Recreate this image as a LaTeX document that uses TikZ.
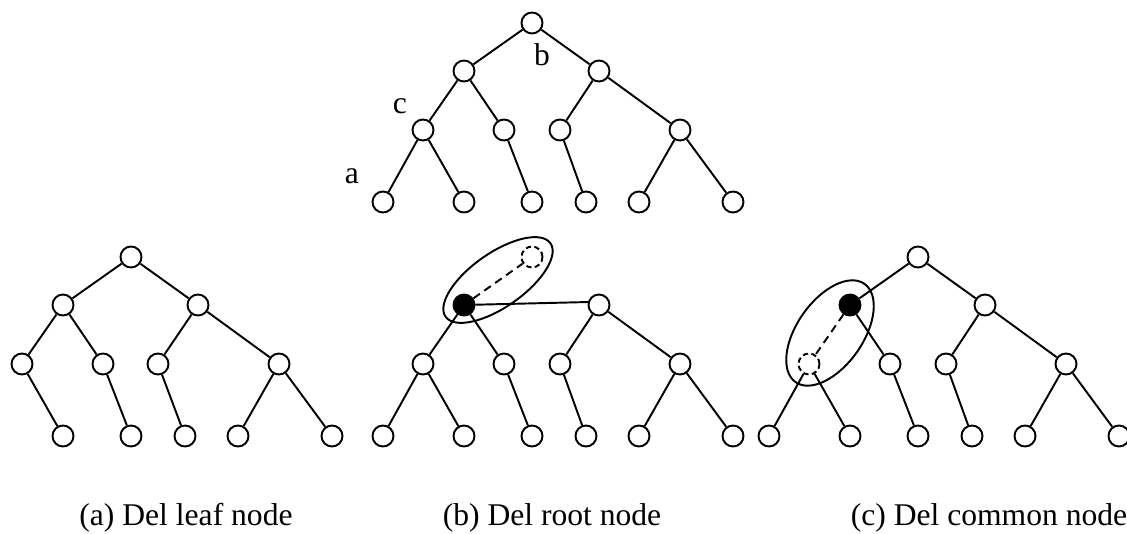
\documentclass[tikz,border=0pt]{standalone}
\usepackage{fontspec}
\setmainfont{Liberation Serif}

\begin{document}
\begin{tikzpicture}[x=0.75pt,y=0.75pt,yscale=-1,xscale=1,
  vtx/.style={draw,circle,line width=1.45pt,minimum size=15.75pt,inner sep=0pt},
  gone/.style={vtx,dash pattern=on 4pt off 2.5pt},
  hit/.style={vtx,fill=black},
  edge/.style={line width=1.45pt},
  lbl/.style={inner sep=0pt,font=\fontsize{23.7}{28}\selectfont}]
\useasboundingbox (0,0) rectangle (1127,534);

%Shape: Circle (original tree)
\node[vtx] (t1) at (532,23) {};
\node[vtx] (t2) at (464,71) {};
\node[vtx] (t3) at (599,71) {};
\node[vtx] (t4) at (423,130) {};
\node[vtx] (t5) at (504,130) {};
\node[vtx] (t6) at (560,130) {};
\node[vtx] (t7) at (680,130) {};
\node[vtx] (t8) at (383,202) {};
\node[vtx] (t9) at (464,202) {};
\node[vtx] (t11) at (532,202) {};
\node[vtx] (t13) at (586,202) {};
\node[vtx] (t14) at (639,202) {};
\node[vtx] (t15) at (733,202) {};
%Straight Lines
\draw[edge] (t1) -- (t2) (t1) -- (t3) (t2) -- (t4) (t2) -- (t5) (t3) -- (t6) (t3) -- (t7);
\draw[edge] (t4) -- (t8) (t4) -- (t9) (t5) -- (t11) (t6) -- (t13) (t7) -- (t14) (t7) -- (t15);
% Text Node
\node[lbl] (lb) at (542,55) {b};
% Text Node
\node[lbl] (lc) at (400,106) {c};
% Text Node
\node[lbl] (la) at (352,176) {a};

%Shape: Circle (a) leaf a removed
\node[vtx] (a1) at (131,257) {};
\node[vtx] (a2) at (63,305) {};
\node[vtx] (a3) at (198,305) {};
\node[vtx] (a4) at (22,364) {};
\node[vtx] (a5) at (103,364) {};
\node[vtx] (a6) at (158,364) {};
\node[vtx] (a7) at (279,364) {};
\node[vtx] (a9) at (63,436) {};
\node[vtx] (a11) at (131,436) {};
\node[vtx] (a13) at (185,436) {};
\node[vtx] (a14) at (238,436) {};
\node[vtx] (a15) at (332,436) {};
%Straight Lines
\draw[edge] (a1) -- (a2) (a1) -- (a3) (a2) -- (a4) (a2) -- (a5) (a3) -- (a6) (a3) -- (a7);
\draw[edge] (a4) -- (a9) (a5) -- (a11) (a6) -- (a13) (a7) -- (a14) (a7) -- (a15);

%Shape: Circle (b) root b removed
\node[gone] (b1) at (532,257) {};
\node[hit] (b2) at (464,305) {};
\node[vtx] (b3) at (599,305) {};
\node[vtx] (b4) at (423,364) {};
\node[vtx] (b5) at (504,364) {};
\node[vtx] (b6) at (560,364) {};
\node[vtx] (b7) at (680,364) {};
\node[vtx] (b8) at (383,436) {};
\node[vtx] (b9) at (464,436) {};
\node[vtx] (b11) at (532,436) {};
\node[vtx] (b13) at (586,436) {};
\node[vtx] (b14) at (639,436) {};
\node[vtx] (b15) at (733,436) {};
%Straight Lines
\draw[edge,dash pattern=on 6pt off 4pt] (b2) -- (b1);
\draw[edge] (b2) -- (b3.165) (b2) -- (b4) (b2) -- (b5) (b3) -- (b6) (b3) -- (b7);
\draw[edge] (b4) -- (b8) (b4) -- (b9) (b5) -- (b11) (b6) -- (b13) (b7) -- (b14) (b7) -- (b15);
%Shape: Ellipse
\draw[edge,rotate around={-35:(498,280)}] (498,280) ellipse [x radius=64, y radius=27];

%Shape: Circle (c) node c removed
\node[vtx] (c1) at (918,257) {};
\node[hit] (c2) at (850,305) {};
\node[vtx] (c3) at (985,305) {};
\node[gone] (c4) at (809,364) {};
\node[vtx] (c5) at (890,364) {};
\node[vtx] (c6) at (946,364) {};
\node[vtx] (c7) at (1066,364) {};
\node[vtx] (c8) at (769,436) {};
\node[vtx] (c9) at (850,436) {};
\node[vtx] (c11) at (918,436) {};
\node[vtx] (c13) at (972,436) {};
\node[vtx] (c14) at (1025,436) {};
\node[vtx] (c15) at (1119,436) {};
%Straight Lines
\draw[edge,dash pattern=on 6pt off 4pt] (c2) -- (c4);
\draw[edge] (c1) -- (c2) (c1) -- (c3) (c2) -- (c5) (c3) -- (c6) (c3) -- (c7);
\draw[edge] (c4) -- (c8) (c4) -- (c9) (c5) -- (c11) (c6) -- (c13) (c7) -- (c14) (c7) -- (c15);
%Shape: Ellipse
\draw[edge,rotate around={-55:(830,333)}] (830,333) ellipse [x radius=60, y radius=33];

% Text Node
\node[lbl,anchor=base] (capa) at (186,525) {(a) Del leaf node};
% Text Node
\node[lbl,anchor=base] (capb) at (552,525) {(b) Del root node};
% Text Node
\node[lbl,anchor=base] (capc) at (989,525) {(c) Del common node};

\end{tikzpicture}
\end{document}
